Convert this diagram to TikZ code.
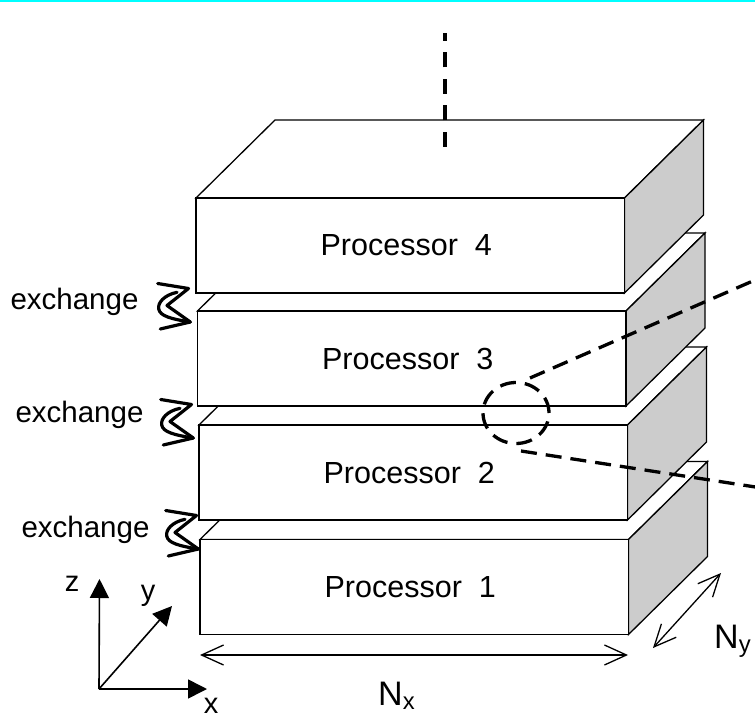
\documentclass[tikz,border=0pt]{standalone}
\usepackage{fontspec}
\setmainfont{Liberation Sans}
\usetikzlibrary{arrows.meta,shapes.geometric}
\definecolor{sidegray}{RGB}{204,204,204}
\definecolor{rulecyan}{RGB}{0,255,255}

% slab geometry: front width, front height, depth offset
\def\slabW{428.5}
\def\slabH{95}
\def\slabDx{79}
\def\slabDy{-78}

% one processor slab: #1 name, (#2,#3) front top-left corner, #4 label
\newcommand{\procslab}[4]{%
  \path[slab] (#2,#3) -- ++(\slabW,0) -- ++(\slabDx,\slabDy) -- ++(-\slabW,0) -- cycle;
  \path[slab,fill=sidegray] (#2+\slabW,#3) -- ++(\slabDx,\slabDy) -- ++(0,\slabH) -- ++(-\slabDx,-\slabDy) -- cycle;
  \path[slab] (#2,#3) rectangle ++(\slabW,\slabH);
  \node[slabtext] (#1) at (#2+\slabW/2-4,#3+\slabH/2) {#4};
}

% exchange glyph (curved double arrow) drawn from its top-left point (#1,#2)
\newcommand{\xchgmark}[2]{%
  \begin{scope}[shift={(#1,#2)}]
    \draw[xsym] (0.7,0.5) -- (31.5,5.5) -- (10,22.5) -- (33.3,39) -- (3.3,46);
    \draw[xsym] (20,9.3) .. controls (7,12) and (0.5,20) .. (1.7,26)
                .. controls (3,33) and (14,36) .. (33.3,39);
  \end{scope}%
}

\begin{document}
\begin{tikzpicture}[x=1pt,y=-1pt,
  slab/.style={draw=black,fill=white,line width=1.3pt,line join=miter},
  slabtext/.style={font=\fontsize{30.5}{36}\selectfont,inner sep=0pt},
  xsym/.style={line width=3.2pt,line cap=round,line join=round},
  xlabel/.style={font=\fontsize{29.5}{35}\selectfont,anchor=base,inner sep=0pt},
  dashline/.style={line width=3.4pt,dash pattern=on 15pt off 11.5pt},
  zoomline/.style={line width=3.3pt,dash pattern=on 16pt off 9pt},
  dimarrow/.style={line width=1.3pt,{Straight Barb[length=22pt,width=20pt]}-{Straight Barb[length=22pt,width=20pt]}},
  axis/.style={line width=1.6pt,-{Triangle[length=19pt,width=19pt]}},
  axlabel/.style={font=\fontsize{29}{34}\selectfont,inner sep=0pt},
  dimlabel/.style={font=\fontsize{34}{40}\selectfont,inner sep=0pt}]

\useasboundingbox (0,0) rectangle (755,722);
\fill[rulecyan] (0,0) rectangle (755,1.6);

% the stack, bottom slab first
\procslab{p1}{200}{539.5}{Processor\ \ 1}
\procslab{p2}{199}{425}{Processor\ \ 2}
\procslab{p3}{197.5}{311}{Processor\ \ 3}
\procslab{p4}{196}{198}{Processor\ \ 4}

% continuation upward
\coordinate (upA) at (445,147);
\coordinate (upB) at (445,33);
\draw[dashline] (upA) -- (upB);

% magnified interface
\node[draw,zoomline,ellipse,minimum width=66pt,minimum height=61pt,inner sep=0pt] (lens) at (516,413) {};
\coordinate (lensT) at (530,378);
\coordinate (lensB) at (521,451);
\coordinate (farT) at (762,277);
\coordinate (farB) at (762,488);
\draw[zoomline] (lensT) -- (farT);
\draw[zoomline] (lensB) -- (farB);

% halo exchange between neighbouring slabs
\xchgmark{157}{283}
\xchgmark{160}{399}
\xchgmark{165}{510}
\node[xlabel] (ex1) at (74.5,309) {exchange};
\node[xlabel] (ex2) at (79.5,422) {exchange};
\node[xlabel] (ex3) at (85.5,537) {exchange};

% extents
\coordinate (nxL) at (200,655);
\coordinate (nxR) at (628,655);
\draw[dimarrow] (nxL) -- (nxR);
\node[dimlabel,anchor=base west] (nx) at (378,705) {N\textsubscript{x}};
\coordinate (nyA) at (653,648);
\coordinate (nyB) at (721,573);
\draw[dimarrow] (nyA) -- (nyB);
\node[dimlabel,anchor=base west] (ny) at (714,648) {N\textsubscript{y}};

% coordinate axes
\coordinate (o) at (99,689);
\coordinate (zt) at (99.5,579);
\coordinate (xt) at (207,689);
\coordinate (yt) at (172,606);
\draw[axis] (o) -- (zt);
\draw[axis] (o) -- (xt);
\draw[axis] (o) -- (yt);
\node[axlabel] (zl) at (72,584) {z};
\node[axlabel] (yl) at (148,596) {y};
\node[axlabel] (xl) at (211,706) {x};
\end{tikzpicture}
\end{document}
